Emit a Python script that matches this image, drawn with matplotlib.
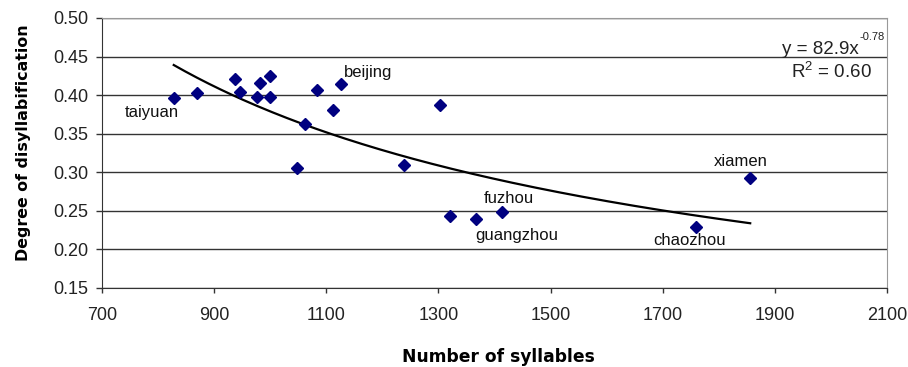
import numpy as np
import matplotlib.pyplot as plt

# number of syllables and degree of disyllabification per dialect
syllables = [828, 869, 937, 946, 976, 982, 1000, 1000, 1048, 1062,
             1083, 1112, 1126, 1239, 1303, 1320, 1367, 1413, 1759, 1856]
degree = [0.396, 0.403, 0.421, 0.404, 0.398, 0.416, 0.425, 0.398, 0.306, 0.363,
          0.407, 0.381, 0.414, 0.309, 0.387, 0.243, 0.239, 0.249, 0.229, 0.293]

# labelled cities: index into the lists above, label offset in points
labels = {
    0: ("taiyuan", (-16, -10)),
    12: ("beijing", (19.5, 8.6)),
    17: ("fuzhou", (5, 9.4)),
    16: ("guangzhou", (29, -11.5)),
    18: ("chaozhou", (-4.3, -10)),
    19: ("xiamen", (-6.5, 11.5)),
}

# power trend line y = a * x^b
coef_a = 82.9
coef_b = -0.78
r2 = 0.60

plt.rcParams['font.family'] = ['Liberation Sans', 'DejaVu Sans']

fig = plt.figure(figsize=(9.08, 3.67), dpi=100)
ax = fig.add_axes([0.1123, 0.2153, 0.8646, 0.7357])

xs = np.linspace(min(syllables), max(syllables), 200)
ax.plot(xs, coef_a * xs ** coef_b, color='black', lw=1.6, zorder=2)

ax.plot(syllables, degree, 'D', color='#000080', ms=6.3, zorder=3)

for i, (name, off) in labels.items():
    ax.annotate(name, (syllables[i], degree[i]), xytext=off,
                textcoords='offset points', ha='center', va='center',
                fontsize=12, color='#111111')

# trend line equation, exponent written as a small raised text
ax.text(0.9643, 0.8667, 'y = %.1fx' % coef_a, transform=ax.transAxes,
        ha='right', va='baseline', fontsize=13.5, color='#222222')
ax.text(0.9650, 0.9185, '%.2f' % coef_b, transform=ax.transAxes,
        ha='left', va='baseline', fontsize=8, color='#222222')
ax.text(0.981, 0.7778, 'R$^{\\mathregular{2}}$ = %.2f' % r2,
        transform=ax.transAxes, ha='right', va='baseline', fontsize=13.5,
        color='#222222')

ax.set_xlim(700, 2100)
ax.set_ylim(0.15, 0.50)
ax.set_xticks(np.arange(700, 2101, 200))
ax.set_yticks(np.arange(0.15, 0.501, 0.05))
ax.set_yticklabels(['%.2f' % v for v in np.arange(0.15, 0.501, 0.05)])
ax.tick_params(labelsize=13, width=1, color='#333333', labelcolor='#222222')
ax.tick_params(axis='x', length=3.6, pad=10)
ax.tick_params(axis='y', length=4.3, pad=5.5)

ax.yaxis.grid(True, color='#333333', lw=1)
ax.set_axisbelow(True)
for side in ['top', 'right']:
    ax.spines[side].set_color('#999999')
for side in ['left', 'bottom']:
    ax.spines[side].set_color('#333333')

ax.set_xlabel('Number of syllables', family='DejaVu Sans', fontweight='bold',
              fontsize=12.3)
ax.set_ylabel('Degree of disyllabification', family='DejaVu Sans',
              fontweight='bold', fontsize=11.4)
ax.xaxis.set_label_coords(0.5045, -0.222)
ax.yaxis.set_label_coords(-0.090, 0.537)

fig.savefig('out.png', dpi=100)
